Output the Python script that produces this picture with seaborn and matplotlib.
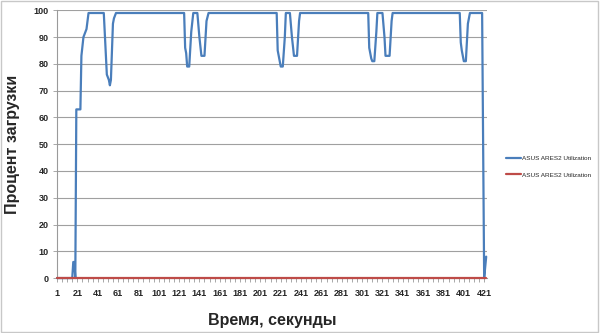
import matplotlib
matplotlib.use("Agg")
import matplotlib.pyplot as plt
import seaborn as sns
import pandas as pd
from matplotlib.patches import Rectangle
from matplotlib.ticker import FixedLocator

# --- data (time in seconds, utilization %) ---
blue_time = [1, 16, 17, 18, 19, 20, 24, 25, 27, 28, 30, 32,
             47, 50, 52, 53, 54, 56, 57, 59,
             126, 127, 128, 129, 131, 133, 135, 139, 141, 143, 146, 148, 150,
             217, 218, 220, 221, 223, 225, 226, 230, 232, 234, 237, 239, 240,
             307, 308, 310, 311, 313, 315, 316, 321, 323, 324, 328, 330, 331,
             397, 398, 399, 401, 403, 405, 407, 419, 421, 423]
blue_util = [0, 0, 6, 6, 0, 63, 63, 83, 90, 91, 93, 99,
             99, 76, 74, 72, 74, 95, 97, 99,
             99, 86, 84, 79, 79, 92, 99, 99, 90, 83, 83, 96, 99,
             99, 85, 81, 79, 79, 90, 99, 99, 90, 83, 83, 96, 99,
             99, 86, 82, 81, 81, 92, 99, 99, 90, 83, 83, 96, 99,
             99, 88, 85, 81, 81, 95, 99, 99, 0, 8]
red_time = [1, 423]
red_util = [0, 0]
series_label = "ASUS ARES2 Utilization"
x_tick_labels = list(range(1, 422, 20))
y_ticks = list(range(0, 101, 10))

blue_df = pd.DataFrame({"t": blue_time, "u": blue_util})
red_df = pd.DataFrame({"t": red_time, "u": red_util})

sns.set_style("white")
plt.rcParams["font.family"] = ["Liberation Sans", "DejaVu Sans"]

fig = plt.figure(figsize=(6, 3.33), dpi=100)
ax = fig.add_axes([0.095, 0.165, 0.716, 0.804])

sns.lineplot(data=blue_df, x="t", y="u", ax=ax, color="#4A7EBB", lw=1.6,
             label=series_label, zorder=3)
sns.lineplot(data=red_df, x="t", y="u", ax=ax, color="#BE4B48", lw=1.6,
             label=series_label, zorder=4)
for ln in ax.lines:
    ln.set_clip_on(False)

ax.set_xlim(1, 423.4)
ax.set_ylim(0, 100)
ax.yaxis.set_major_locator(FixedLocator(y_ticks))
ax.xaxis.set_major_locator(FixedLocator(x_tick_labels))
ax.xaxis.set_minor_locator(FixedLocator(list(range(1, 424, 5))))
ax.grid(axis="y", color="#A0A0A0", lw=0.8)
ax.set_axisbelow(True)

for s in ["top", "right"]:
    ax.spines[s].set_visible(False)
ax.spines["left"].set_color("#9A9A9A")
ax.spines["left"].set_linewidth(0.8)
ax.spines["bottom"].set_color("#9A9A9A")
ax.spines["bottom"].set_linewidth(0.8)

ax.tick_params(axis="y", which="major", direction="out", length=3, width=0.6,
               color="#9A9A9A", labelsize=6.5, pad=3, left=True)
ax.tick_params(axis="x", which="major", direction="out", length=3, width=0.6,
               color="#9A9A9A", labelsize=6.5, pad=5, bottom=True)
ax.tick_params(axis="x", which="minor", direction="out", length=3, width=0.6,
               color="#9A9A9A", bottom=True)
for lab in ax.get_xticklabels() + ax.get_yticklabels():
    lab.set_fontweight("bold")

ax.set_xlabel("Время, секунды", fontsize=11.5, fontweight="bold")
ax.set_ylabel("Процент загрузки", fontsize=11.5, fontweight="bold")
ax.xaxis.set_label_coords(0.5, -0.13)
ax.yaxis.set_label_coords(-0.085, 0.5)

leg = ax.legend(loc="center left", bbox_to_anchor=(0.843, 0.5), bbox_transform=fig.transFigure,
                frameon=False, fontsize=4.6, handlelength=2.4, handletextpad=0.1,
                labelspacing=1.75, borderaxespad=0, borderpad=0)

fig.patches.append(Rectangle((0.002, 0.004), 0.995, 0.992, transform=fig.transFigure,
                             fill=False, edgecolor="#C8C8C8", lw=1.0))

fig.savefig("out.png", dpi=100)
